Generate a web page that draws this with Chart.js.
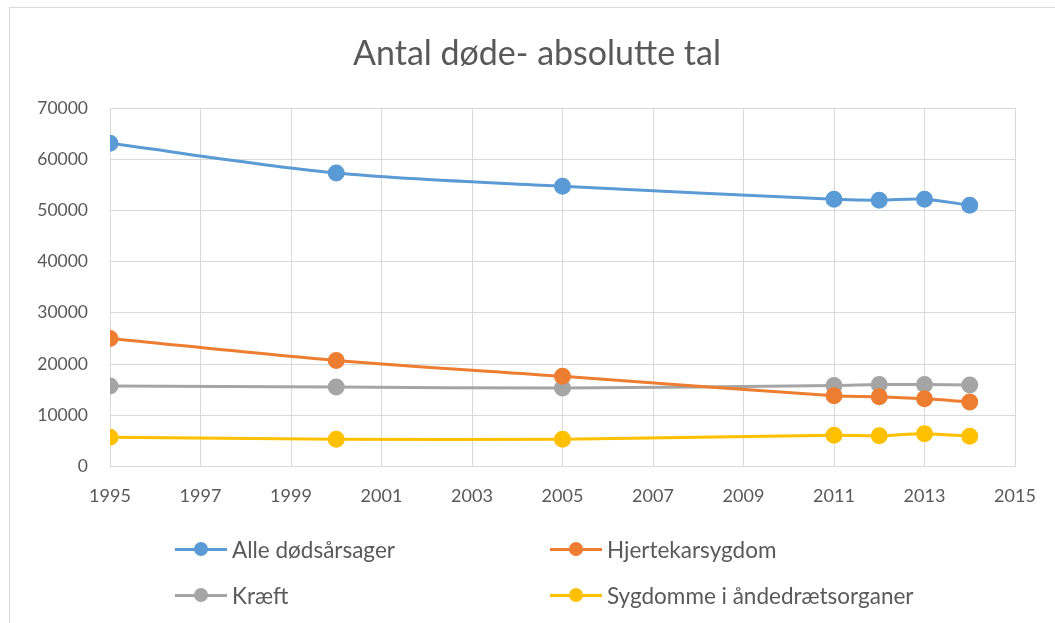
<!DOCTYPE html>
<html>
<head>
<meta charset="utf-8">
<script src="https://cdn.jsdelivr.net/npm/chart.js@4"></script>
<style>
    body { margin: 0; background: #fff; font-family: Lato, sans-serif; }
    #wrap { position: relative; width: 1055px; height: 623px; overflow: hidden; }
    #frame { position: absolute; left: 9px; top: 7px; width: 1200px; height: 800px; border: 1px solid #d9d9d9; }
    #chartBox { position: absolute; left: 0; top: 0; width: 1055px; height: 623px; }
    #title { position: absolute; left: 337px; width: 400px; top: 30px; text-align: center; color: #595959; font-size: 34px; line-height: 44px; white-space: nowrap; }
    .legend-item { position: absolute; height: 24px; display: flex; align-items: center; color: #595959; font-size: 22.5px; white-space: nowrap; }
    .legend-line { position: relative; width: 52px; height: 3px; margin-right: 5px; flex: none; }
    .legend-dot { position: absolute; left: 19px; top: -6px; width: 14px; height: 14px; border-radius: 50%; }
</style>
</head>
<body>
<div id="wrap">
    <div id="frame"></div>
    <div id="chartBox"><canvas id="myChart"></canvas></div>
    <div id="title">Antal døde- absolutte tal</div>
    <div id="legend"></div>
</div>
<script>
// data
const years = [1995, 2000, 2005, 2011, 2012, 2013, 2014];
const alleDoedsaarsager = [63100, 57300, 54700, 52200, 52000, 52200, 51000];
const hjertekarsygdom = [25000, 20700, 17600, 13800, 13600, 13200, 12600];
const kraeft = [15700, 15500, 15300, 15800, 16000, 16000, 15900];
const sygdommeAande = [5700, 5300, 5300, 6100, 6000, 6400, 5900];

const seriesNames = ["Alle dødsårsager", "Hjertekarsygdom", "Kræft", "Sygdomme i åndedrætsorganer"];
const seriesColors = ["#5B9BD5", "#ED7D31", "#A5A5A5", "#FFC000"];
const seriesValues = [alleDoedsaarsager, hjertekarsygdom, kraeft, sygdommeAande];

const textColor = "#595959";
const gridColor = "#d9d9d9";

// build datasets as x/y points
function makeDatasets() {
    let sets = [];
    for (var i = 0; i < seriesNames.length; i++) {
        sets.push({
            label: seriesNames[i],
            data: years.map((y, j) => ({ x: y, y: seriesValues[i][j] })),
            borderColor: seriesColors[i],
            backgroundColor: seriesColors[i],
            borderWidth: 3,
            pointRadius: 7,
            pointHoverRadius: 7,
            tension: 0.3,
        });
    }
    return sets;
}

new Chart(document.getElementById("myChart"), {
    type: "line",
    data: { datasets: makeDatasets() },
    options: {
        responsive: true,
        maintainAspectRatio: false,
        animation: false,
        // title and legend are html, so leave room for them here
        layout: { padding: { left: 0, right: 40, top: 108, bottom: 97 } },
        plugins: {
            legend: { display: false },
            tooltip: { enabled: false },
            title: { display: false },
        },
        scales: {
            x: {
                type: "linear",
                min: 1995,
                max: 2015,
                ticks: {
                    stepSize: 2,
                    color: textColor,
                    font: { family: "Lato", size: 18 },
                    padding: 19,
                    callback: v => String(v),
                },
                grid: { color: gridColor, drawTicks: false },
                border: { color: gridColor },
            },
            y: {
                min: 0,
                max: 70000,
                ticks: {
                    stepSize: 10000,
                    color: textColor,
                    font: { family: "Lato", size: 17.5 },
                    padding: 22,
                    callback: v => String(v),
                },
                grid: { color: gridColor, drawTicks: false },
                border: { color: gridColor },
                afterFit: scale => { scale.width = 110; },
            },
        },
    },
});

// html legend in two columns like the original
const legendPos = [[175, 537], [550, 537], [175, 583], [550, 583]];
const legendDiv = document.getElementById("legend");
for (var i = 0; i < seriesNames.length; i++) {
    let item = document.createElement("div");
    item.className = "legend-item";
    item.style.left = legendPos[i][0] + "px";
    item.style.top = legendPos[i][1] + "px";
    item.innerHTML = '<div class="legend-line" style="background:' + seriesColors[i] + '">' +
        '<div class="legend-dot" style="background:' + seriesColors[i] + '"></div></div>' +
        '<span>' + seriesNames[i] + '</span>';
    legendDiv.appendChild(item);
}
</script>
</body>
</html>
